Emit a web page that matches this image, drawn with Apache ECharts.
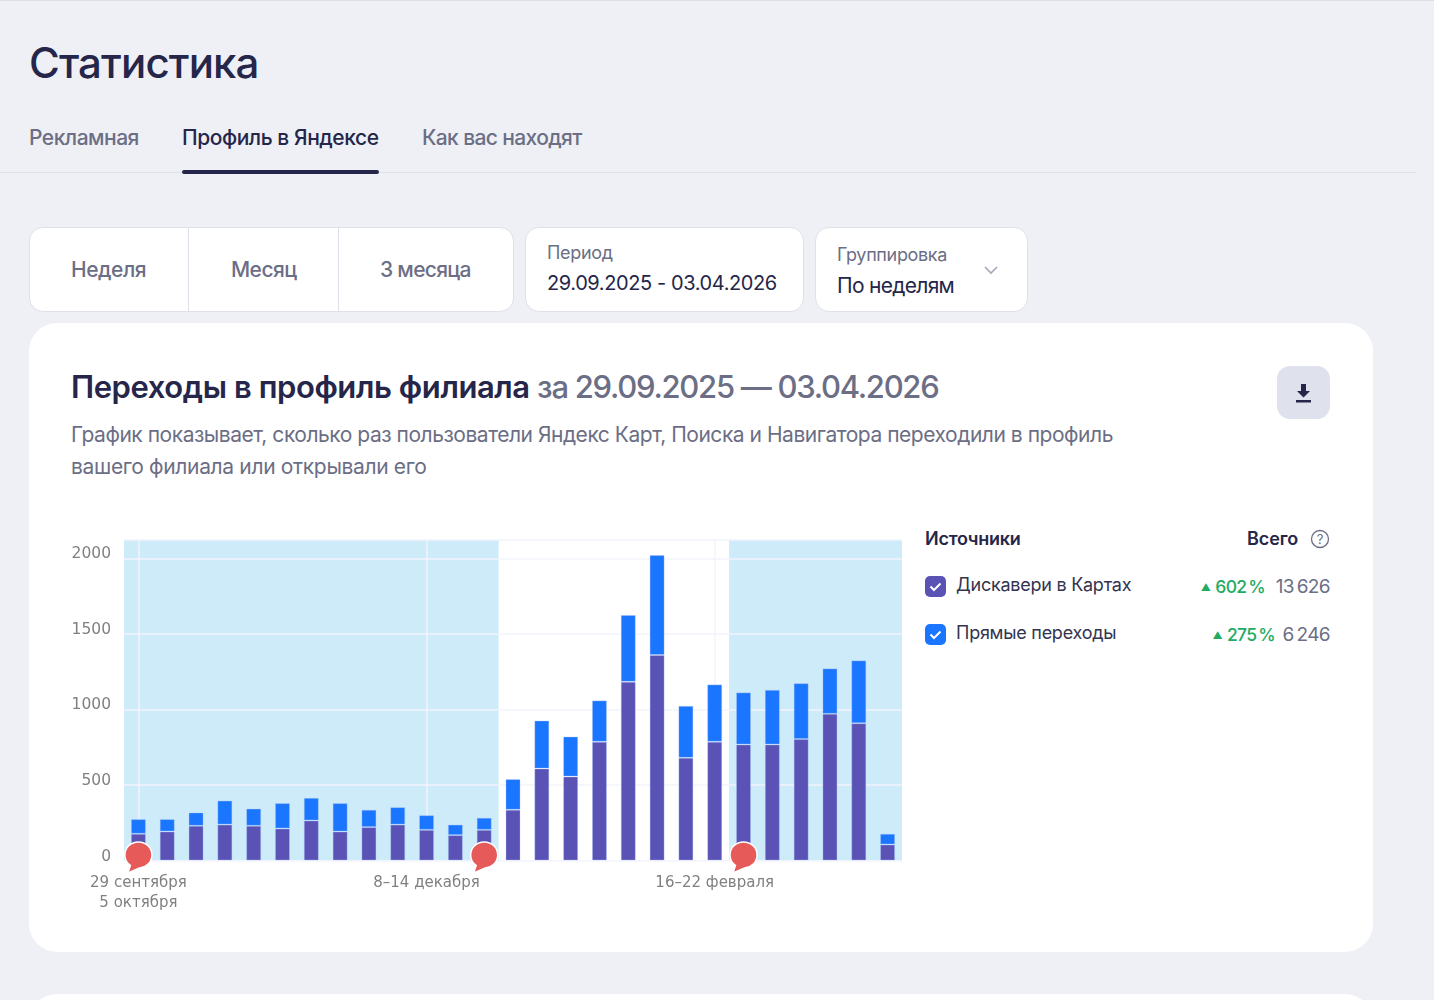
<!DOCTYPE html>
<html lang="ru"><head><meta charset="utf-8"><title>Статистика</title>
<script src="https://cdn.jsdelivr.net/npm/echarts@6/dist/echarts.min.js"></script>
<style>
html,body{margin:0;padding:0;width:1434px;height:1000px;overflow:hidden;background:#eef0f5;font-family:Inter,"Noto Sans",sans-serif;color:#25264a}
.a{position:absolute;white-space:nowrap;line-height:1}
.box{position:absolute;background:#fff;border:1px solid #dfe1e9;box-sizing:border-box}
.card{position:absolute;background:#fff;left:29px;width:1344px;border-radius:28px}
.g{color:#6b6e85}
.cb{position:absolute;left:925px;width:21px;height:21px;border-radius:5px}
.up{color:#22ab62}
</style></head><body>
<div style="position:absolute;left:0;top:0;width:1434px;height:1px;background:#dcdee6"></div>
<div class="a" id="h1" style="left:29px;top:42px;font-size:42px;font-weight:500;letter-spacing:-.85px">Статистика</div>
<div class="a g" style="left:29px;top:127px;font-size:21px;font-weight:500;letter-spacing:-.5px">Рекламная</div>
<div class="a" style="left:182px;top:127px;font-size:21px;font-weight:500;letter-spacing:-.45px">Профиль в Яндексе</div>
<div class="a g" style="left:422px;top:127px;font-size:21px;font-weight:500;letter-spacing:-.62px">Как вас находят</div>
<div style="position:absolute;left:0;top:172px;width:1416px;height:1px;background:#dfe1e9"></div>
<div style="position:absolute;left:182px;top:170px;width:197px;height:4px;border-radius:2px;background:#25264a"></div>

<div class="box" style="left:29px;top:227px;width:485px;height:85px;border-radius:14px"></div>
<div style="position:absolute;left:188px;top:228px;width:1px;height:83px;background:#dfe1e9"></div>
<div style="position:absolute;left:338px;top:228px;width:1px;height:83px;background:#dfe1e9"></div>
<div class="a g" style="left:71px;top:259px;font-size:21px;font-weight:500;letter-spacing:-.45px">Неделя</div>
<div class="a g" style="left:231px;top:259px;font-size:21px;font-weight:500;letter-spacing:-.55px">Месяц</div>
<div class="a g" style="left:380px;top:259px;font-size:21px;font-weight:500;letter-spacing:-.7px">3 месяца</div>
<div class="box" style="left:525px;top:227px;width:279px;height:85px;border-radius:14px"></div>
<div class="a g" style="left:547px;top:244px;font-size:18px;letter-spacing:-.3px">Период</div>
<div class="a" style="left:547px;top:273px;font-size:20px;letter-spacing:-.4px">29.09.2025 - 03.04.2026</div>
<div class="box" style="left:815px;top:227px;width:213px;height:85px;border-radius:14px"></div>
<div class="a g" style="left:837px;top:246px;font-size:18px;letter-spacing:-.35px">Группировка</div>
<div class="a" style="left:837px;top:275px;font-size:21px;letter-spacing:-.7px">По неделям</div>
<svg style="position:absolute;left:983px;top:265px" width="16" height="11"><path d="M2 2l6 6 6-6" fill="none" stroke="#a5a8b8" stroke-width="1.6"/></svg>

<div class="card" style="top:323px;height:629px"></div>
<div class="card" style="top:994px;height:60px"></div>
<div class="a" style="left:71px;top:371px;font-size:31px;font-weight:600;letter-spacing:-.42px">Переходы в профиль филиала <span class="g" style="font-weight:500;letter-spacing:-1.28px">за 29.09.2025 — 03.04.2026</span></div>
<div class="a g" style="left:71px;top:424px;font-size:21px;letter-spacing:-.47px">График показывает, сколько раз пользователи Яндекс Карт, Поиска и Навигатора переходили в профиль</div>
<div class="a g" style="left:71px;top:456px;font-size:21px;letter-spacing:-.34px">вашего филиала или открывали его</div>
<div style="position:absolute;left:1277px;top:366px;width:53px;height:53px;border-radius:13px;background:#dfe1ec"></div>
<svg style="position:absolute;left:1294px;top:383px" width="20" height="20"><path d="M7 1h5v7h4l-6.500 6.500L3 8h4zM2 17h15v2.500H2z" fill="#25264a"/></svg>

<div id="chart" style="position:absolute;left:40px;top:520px;width:880px;height:410px"></div>

<div class="a" style="left:925px;top:530px;font-size:18px;font-weight:600;letter-spacing:-.25px">Источники</div>
<div class="a" style="left:1247px;top:530px;font-size:18px;font-weight:600;letter-spacing:-.1px">Всего</div>
<svg style="position:absolute;left:1310px;top:529px" width="20" height="20"><circle cx="10" cy="10" r="8.500" fill="none" stroke="#6b6e85" stroke-width="1.300"/><text x="10" y="14.500" text-anchor="middle" font-size="13" fill="#6b6e85" font-family="Inter">?</text></svg>
<div id="legend"></div>

<script>
const categories = ["29 сентября\n5 октября","6–12 октября","13–19 октября","20–26 октября","27 октября – 2 ноября","3–9 ноября","10–16 ноября","17–23 ноября","24–30 ноября","1–7 декабря","8–14 декабря","15–21 декабря","22–28 декабря","29 декабря – 4 января","5–11 января","12–18 января","19–25 января","26 января – 1 февраля","2–8 февраля","9–15 февраля","16–22 февраля","23 февраля – 1 марта","2–8 марта","9–15 марта","16–22 марта","23–29 марта","30 марта – 3 апреля"];
const discovery = [177,192,230,238,230,212,265,192,221,238,203,168,203,336,609,556,786,1183,1360,680,786,768,768,804,971,909,106];
const direct = [97,82,88,159,114,168,150,188,115,115,97,70,80,203,318,265,274,442,662,344,380,345,362,370,301,416,71];
const highlightRanges = [[0,12],[21,26]];
const pinWeeks = [0,12,21];
const sourceNames = ["Дискавери в Картах","Прямые переходы"];
const sourceColors = ["#5a52b4","#1a75ff"];
const sourceGrowth = ["602 %","275 %"];
const sourceTotals = ["13 626","6 246"];

const legendRoot = document.getElementById('legend');
sourceNames.forEach((n,i)=>{
  const y = 576 + i*48;
  legendRoot.insertAdjacentHTML('beforeend',
   `<div class="cb" style="top:${y}px;background:${sourceColors[i]}"><svg width="21" height="21"><path d="M5.500 10.500l3.500 3.500L15.500 7.500" fill="none" stroke="#fff" stroke-width="2"/></svg></div>
    <div class="a" style="left:956px;top:${y}px;font-size:18px;letter-spacing:-.25px;color:#33344f">${n}</div>
    <div class="a" style="right:${1434-1330}px;top:${y+1}px;font-size:19px;letter-spacing:-.6px;word-spacing:-2px;color:#6b6e85">${sourceTotals[i]}</div>
    <div class="a up" style="right:${i?159:169}px;top:${y+2}px;font-size:17.500px;letter-spacing:-.7px;word-spacing:-2px;font-weight:500"><span style="font-size:10px;vertical-align:2px;margin-right:3px">▲</span> ${sourceGrowth[i]}</div>`);
});

const chart = echarts.init(document.getElementById('chart'));
const labelStyle = {color:'#808080',fontFamily:'DejaVu Sans'};
const edge = {borderColor:'rgba(170,195,255,.35)',borderWidth:1};
chart.setOption({
  animation:false,
  grid:{left:84,right:18,top:20,bottom:69.500},
  tooltip:{show:false},
  xAxis:{type:'category',data:categories,boundaryGap:true,
    axisLine:{show:false},axisTick:{show:false},
    axisLabel:{...labelStyle,fontSize:15,interval:9,margin:13,lineHeight:20,hideOverlap:false},
    splitLine:{show:true,interval:9,alignWithLabel:true,lineStyle:{color:'#f2f5fc',width:1.500}}},
  yAxis:{type:'value',min:0,max:2122,interval:500,
    axisLine:{show:false},axisTick:{show:false},
    axisLabel:{...labelStyle,fontSize:15.500,margin:13,verticalAlign:'bottom',lineHeight:8,showMaxLabel:false,formatter:v=>String(v)},
    splitLine:{show:true,lineStyle:{color:'#f2f5fc',width:1.500}}},
  series:[
    {type:'custom',z:-1,silent:true,clip:true,data:highlightRanges,encode:{x:[0,1]},
     renderItem(params,api){
       const w=api.size([1,0])[0];
       const x0=api.coord([api.value(0),0])[0]-w/2, x1=api.coord([api.value(1),0])[0]+w/2;
       const c=params.coordSys;
       return {type:'rect',shape:{x:x0,y:c.y,width:x1-x0,height:c.height},style:{fill:'#cdebf9'}};
     }},
    {name:sourceNames[0],type:'bar',stack:'s',barWidth:15,data:discovery,itemStyle:{color:sourceColors[0],...edge}},
    {name:sourceNames[1],type:'bar',stack:'s',barWidth:15,data:direct,itemStyle:{color:sourceColors[1],...edge}},
    {type:'scatter',z:6,clip:false,silent:true,data:pinWeeks.map(i=>[i,0]),
     symbol:'path://M13.500 0C21 0 27 5.500 27 13C27 20 22 25 14.500 26L3 31L5.500 23.500C2 21 0 17.500 0 13C0 5.500 6 0 13.500 0Z',
     symbolSize:[27,31],symbolOffset:[0,-3],
     itemStyle:{color:'#e65a5a',borderColor:'#fff',borderWidth:1.500,opacity:1}}
  ]
});
</script>
</body></html>
